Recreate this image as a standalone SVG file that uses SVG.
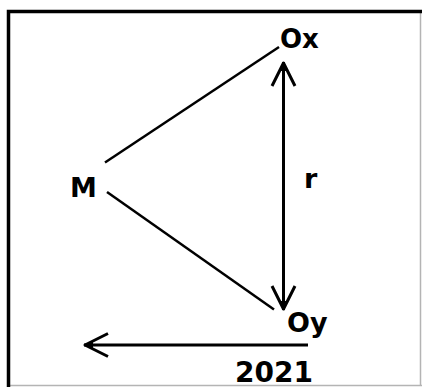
<svg xmlns="http://www.w3.org/2000/svg" width="422" height="387" viewBox="0 0 422 387">
<style>
.lbl{font-family:"DejaVu Sans",sans-serif;font-weight:bold;font-size:26px;fill:#000}
.ln{stroke:#000;stroke-width:2.5;fill:none}
.arr{stroke:#000;stroke-width:3;fill:none}
</style>
<defs>
<marker id="ah" markerUnits="userSpaceOnUse" viewBox="-30 -15 34 30" refX="0" refY="0" markerWidth="34" markerHeight="30" orient="auto-start-reverse" overflow="visible">
<path d="M-24,-11.5 L-1,0 L-24,11.5" fill="none" stroke="#000" stroke-width="3" stroke-linejoin="round"/>
<path d="M-9,-4.5 L0,0 L-9,4.5 Z" fill="#000"/>
</marker>
</defs>
<rect x="0" y="0" width="422" height="387" fill="#fff"/>
<g id="frame">
<line x1="420.5" y1="13" x2="420.5" y2="385.5" stroke="#b4b4b4" stroke-width="1.5"/>
<line x1="10" y1="385.5" x2="422" y2="385.5" stroke="#b4b4b4" stroke-width="1.5"/>
<path d="M8.5,387 V11.5 H422" fill="none" stroke="#000" stroke-width="3.5"/>
</g>
<g id="connectors">
<line class="ln" x1="105" y1="162.5" x2="279" y2="47"/>
<line class="ln" x1="107" y1="192" x2="274" y2="309.5"/>
<line class="arr" x1="283.5" y1="62" x2="283.5" y2="310" marker-start="url(#ah)" marker-end="url(#ah)"/>
<line class="arr" x1="308" y1="345" x2="84" y2="345" marker-end="url(#ah)"/>
<text class="lbl" x="304" y="188" style="font-size:27px">r</text>
<text class="lbl" x="235" y="382" style="font-size:28px">2021</text>
</g>
<g id="M"><text class="lbl" x="70" y="196.5" style="font-size:27px">M</text></g>
<g id="Ox"><text class="lbl" x="280" y="47.5">Ox</text></g>
<g id="Oy"><text class="lbl" x="287" y="331.5" style="font-size:27px">Oy</text></g>
</svg>
